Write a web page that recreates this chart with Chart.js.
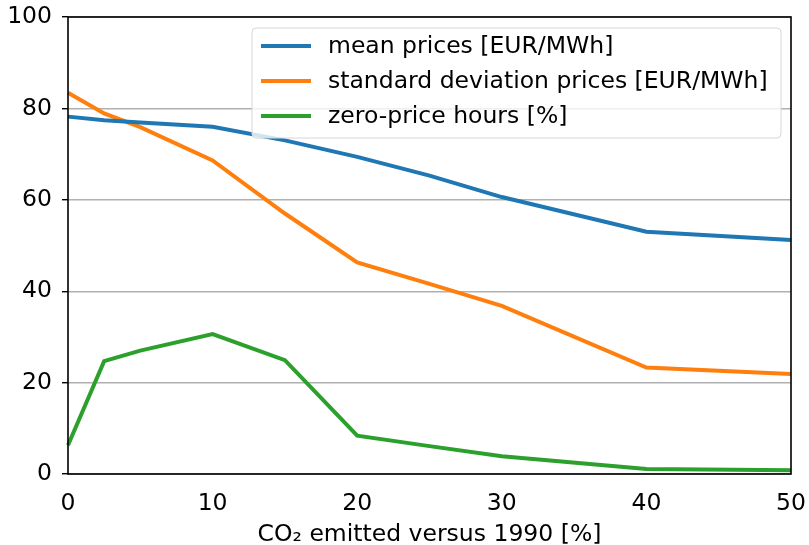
<!DOCTYPE html>
<html>
<head>
<meta charset="utf-8">
<script src="https://cdn.jsdelivr.net/npm/chart.js@4/dist/chart.umd.min.js"></script>
<style>
  html, body { margin: 0; padding: 0; background: #fff; }
  #wrap { width: 809px; height: 545px; }
</style>
</head>
<body>
<div id="wrap"><canvas id="co2Chart" width="809" height="545"></canvas></div>
<script>
// CO2 emissions vs 1990 [%]
const co2Levels = [0, 2.5, 5, 10, 15, 20, 25, 30, 40, 50];
const meanPrices = [78.2, 77.4, 76.9, 76.0, 73.0, 69.4, 65.3, 60.6, 53.0, 51.2];
const stdPrices = [83.4, 78.9, 75.9, 68.6, 57.0, 46.3, 41.6, 36.8, 23.3, 21.9];
const zeroPriceHours = [6.3, 24.7, 27.0, 30.6, 24.9, 8.4, 6.1, 3.9, 1.1, 0.8];
const xTicks = [0, 10, 20, 30, 40, 50];
const yTicks = [0, 20, 40, 60, 80, 100];
const seriesLabels = ['mean prices [EUR/MWh]', 'standard deviation prices [EUR/MWh]', 'zero-price hours [%]'];
const seriesColors = ['#1f77b4', '#ff7f0e', '#2ca02c'];

const FONT = "'DejaVu Sans', sans-serif";
const FONT_SIZE = 23.5;

function toPoints(values) {
    return co2Levels.map((x, i) => ({ x: x, y: values[i] }));
}

// drop the automatic label padding so layout.padding alone sets the plot box
function fixScale(scale, size) {
    if (scale.isHorizontal()) scale.height = size; else scale.width = size;
    scale.paddingTop = 0;
    scale.paddingBottom = 0;
    scale.paddingLeft = 0;
    scale.paddingRight = 0;
}

// frame around the plot + matplotlib-like legend box
const framePlugin = {
    id: 'frame',
    afterDatasetsDraw(chart) {
        const { ctx, chartArea: a } = chart;
        ctx.save();
        ctx.strokeStyle = '#000';
        ctx.lineWidth = 1.6;
        ctx.strokeRect(a.left, a.top, a.right - a.left, a.bottom - a.top);
        ctx.restore();
    },
    afterDraw(chart) {
        const { ctx } = chart;
        const bx = 252, by = 28, bw = 529, bh = 110, r = 4;
        ctx.save();
        ctx.beginPath();
        ctx.moveTo(bx + r, by);
        ctx.arcTo(bx + bw, by, bx + bw, by + bh, r);
        ctx.arcTo(bx + bw, by + bh, bx, by + bh, r);
        ctx.arcTo(bx, by + bh, bx, by, r);
        ctx.arcTo(bx, by, bx + bw, by, r);
        ctx.closePath();
        ctx.fillStyle = 'rgba(255,255,255,0.8)';
        ctx.fill();
        ctx.strokeStyle = '#d6d6d6';
        ctx.lineWidth = 1;
        ctx.stroke();

        ctx.font = FONT_SIZE + 'px ' + FONT;
        ctx.textBaseline = 'middle';
        ctx.fillStyle = '#000';
        chart.data.datasets.forEach((ds, i) => {
            const y = 46 + i * 35;
            ctx.strokeStyle = ds.borderColor;
            ctx.lineWidth = 4;
            ctx.beginPath();
            ctx.moveTo(261, y);
            ctx.lineTo(311, y);
            ctx.stroke();
            ctx.fillText(ds.label, 328, y + 1);
        });
        ctx.restore();
    }
};

const ctx = document.getElementById('co2Chart').getContext('2d');
new Chart(ctx, {
    type: 'line',
    data: {
        datasets: [meanPrices, stdPrices, zeroPriceHours].map((vals, i) => ({
            label: seriesLabels[i],
            data: toPoints(vals),
            borderColor: seriesColors[i],
            backgroundColor: seriesColors[i],
            borderWidth: 4,
            pointRadius: 0,
            tension: 0,
            fill: false,
            clip: 3
        }))
    },
    options: {
        responsive: false,
        animation: false,
        layout: { padding: { top: 17, right: 18, left: 0, bottom: 0 } },
        plugins: {
            legend: { display: false },
            tooltip: { enabled: false }
        },
        scales: {
            x: {
                type: 'linear',
                min: 0,
                max: 50,
                afterBuildTicks: (scale) => { scale.ticks = xTicks.map(v => ({ value: v })); },
                afterFit: (scale) => fixScale(scale, 71),
                grid: { display: false, drawOnChartArea: false, drawTicks: true, tickLength: 6, tickColor: '#000' },
                border: { display: false },
                ticks: { color: '#000', font: { family: FONT, size: FONT_SIZE }, padding: 10, maxRotation: 0 },
                title: {
                    display: true,
                    text: 'CO\u2082 emitted versus 1990 [%]',
                    color: '#000',
                    font: { family: FONT, size: FONT_SIZE },
                    padding: { top: 0, bottom: -4 }
                }
            },
            y: {
                min: 0,
                max: 100,
                afterBuildTicks: (scale) => { scale.ticks = yTicks.map(v => ({ value: v })); },
                afterFit: (scale) => fixScale(scale, 68),
                grid: { color: '#b0b0b0', lineWidth: 1.4, drawTicks: true, tickLength: 6, tickColor: '#000' },
                border: { display: false },
                ticks: { color: '#000', font: { family: FONT, size: FONT_SIZE }, padding: 10 }
            }
        }
    },
    plugins: [framePlugin]
});
</script>
</body>
</html>
